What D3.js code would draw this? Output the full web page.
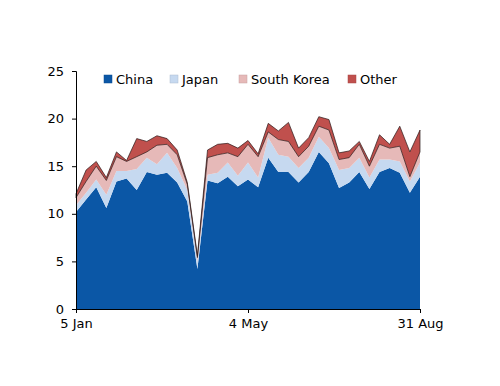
<!DOCTYPE html>
<html><head><meta charset="utf-8">
<script src="https://cdn.jsdelivr.net/npm/d3@7"></script>
<style>body{margin:0;background:#fff}svg{display:block}text{font-family:"DejaVu Sans",Verdana,sans-serif}</style>
</head><body><svg id="c" width="500" height="386"></svg>
<script>
const seriesNames = ["China","Japan","South Korea","Other"];
const colors = ["#0b57a6","#c6d9f0","#e6b9b8","#c0504d"];
const weekStart = "2015-01-05";
const china = [10.2,11.5,12.8,10.6,13.4,13.7,12.5,14.4,14.1,14.3,13.3,11.3,4.2,13.5,13.2,13.9,12.9,13.6,12.8,15.9,14.4,14.4,13.3,14.4,16.5,15.3,12.7,13.3,14.4,12.6,14.4,14.8,14.3,12.2,13.9];
const japan = [0.7,0.7,0.8,1.4,1.1,0.8,2.2,1.5,1.1,2.1,1.5,1.2,0.8,0.6,1.1,1.5,1.1,1.8,1.0,2.1,1.8,1.6,1.5,1.5,1.6,1.6,1.9,1.5,1.5,1.2,1.3,0.9,1.2,1.2,1.5];
const southKorea = [0.8,1.2,1.4,1.5,1.5,1.0,1.3,0.6,2.0,0.9,1.4,0.6,0.4,1.8,1.9,1.0,2.0,1.9,2.2,0.6,1.6,1.6,1.2,1.2,1.1,1.9,1.1,1.1,1.4,1.2,1.6,1.2,1.6,0.5,1.1];
const other = [0.4,1.2,0.5,0.3,0.5,0.1,1.9,1.1,1.0,0.6,0.5,0.2,0.2,0.8,1.1,1.0,0.9,0.4,0.3,0.9,0.9,2.0,0.9,0.9,1.0,1.1,0.7,0.7,0.3,0.5,1.0,0.4,2.1,2.6,2.3];
const yTicks = [0,5,10,15,20,25];
const xTickLabels = ["2015-01-05","2015-05-04","2015-08-31"];

const parse = d3.timeParse("%Y-%m-%d");
const start = parse(weekStart);
const rows = china.map((v,i)=>({date:d3.timeWeek.offset(start,i),"China":v,"Japan":japan[i],"South Korea":southKorea[i],"Other":other[i]}));

const svg = d3.select("#c");
const x = d3.scaleTime().domain([rows[0].date, rows[rows.length-1].date]).range([76,420]);
const y = d3.scaleLinear().domain([0,25]).range([309,71]);

const stack = d3.stack().keys(seriesNames)(rows);
const area = d3.area().x(d=>x(d.data.date)).y0(d=>y(d[0])).y1(d=>y(d[1]));

svg.append("g").selectAll("path").data(stack).join("path")
  .attr("d",area)
  .attr("fill",(d,i)=>colors[i])
  .attr("stroke",(d,i)=>i===3?"#2a1a1a":"none")
  .attr("stroke-width",0.7)
  .attr("stroke-linejoin","round");

// y axis
const yAxis = svg.append("g").attr("transform","translate(76,0)")
  .call(d3.axisLeft(y).tickValues(yTicks).tickSize(4).tickPadding(8));
yAxis.select(".domain").attr("stroke","#000");
yAxis.selectAll("text").attr("font-size",13).attr("fill","#000").style("font-family","DejaVu Sans");

// x axis
const xAxis = svg.append("g").attr("transform","translate(0,309)")
  .call(d3.axisBottom(x).tickValues(xTickLabels.map(parse)).tickFormat(d3.timeFormat("%-d %b")).tickSize(4).tickPadding(6));
xAxis.select(".domain").attr("stroke","#000");
xAxis.selectAll("text").attr("font-size",13).attr("fill","#000").style("font-family","DejaVu Sans");

// legend
const legendX = [104,170,239,348];
const lg = svg.append("g").selectAll("g").data(seriesNames).join("g")
  .attr("transform",(d,i)=>`translate(${legendX[i]},75)`);
lg.append("rect").attr("width",8).attr("height",8)
  .attr("fill",(d,i)=>colors[i]).attr("stroke",(d,i)=>d3.color(colors[i]).darker(0.4)).attr("stroke-width",0.5);
lg.append("text").attr("x",12).attr("y",4).attr("dy","0.35em").attr("font-size",13).text(d=>d);
</script></body></html>
